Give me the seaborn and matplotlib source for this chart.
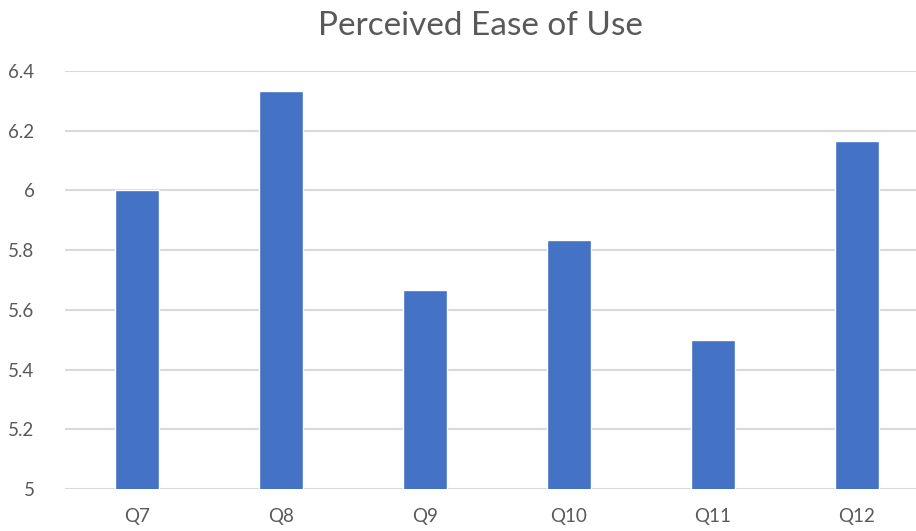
import matplotlib
matplotlib.use("Agg")
import matplotlib.pyplot as plt
import seaborn as sns
import pandas as pd

# Mean rating per questionnaire item
questions = ["Q7", "Q8", "Q9", "Q10", "Q11", "Q12"]
scores = [6.0, 6.333, 5.667, 5.833, 5.5, 6.167]
y_ticks = [5, 5.2, 5.4, 5.6, 5.8, 6, 6.2, 6.4]
y_tick_labels = ["5", "5.2", "5.4", "5.6", "5.8", "6", "6.2", "6.4"]

df = pd.DataFrame({"question": questions, "score": scores})

sns.set_theme(style="white")
plt.rcParams["font.family"] = ["Lato", "DejaVu Sans"]

text_color = "#595959"
grid_color = "#d9d9d9"
bar_color = "#4472C4"

W, H = 916, 531
fig = plt.figure(figsize=(W / 100, H / 100), dpi=100)
fig.patch.set_facecolor("white")
ax = fig.add_axes([65 / W, (H - 489) / H, 863.5 / W, 418 / H])

sns.barplot(data=df, x="question", y="score", order=questions,
            color=bar_color, saturation=1, width=0.306, ax=ax, zorder=3)

ax.set_xlim(-0.5, len(questions) - 0.5)
ax.set_ylim(5, 6.4)
ax.set_yticks(y_ticks)
ax.set_yticklabels(y_tick_labels)
ax.grid(axis="y", color=grid_color, linewidth=1.5, zorder=0)
ax.set_axisbelow(True)
for s in ax.spines.values():
    s.set_visible(False)
ax.tick_params(axis="y", length=0, pad=22, labelsize=13.5, labelcolor=text_color)
ax.tick_params(axis="x", length=0, pad=14, labelsize=13.5, labelcolor=text_color)
ax.set_xlabel("")
ax.set_ylabel("")

fig.text(480 / W, 1 - 26 / H, "Perceived Ease of Use", ha="center", va="center",
         fontsize=24, color=text_color)

fig.savefig("out.png", dpi=100, facecolor="white")
